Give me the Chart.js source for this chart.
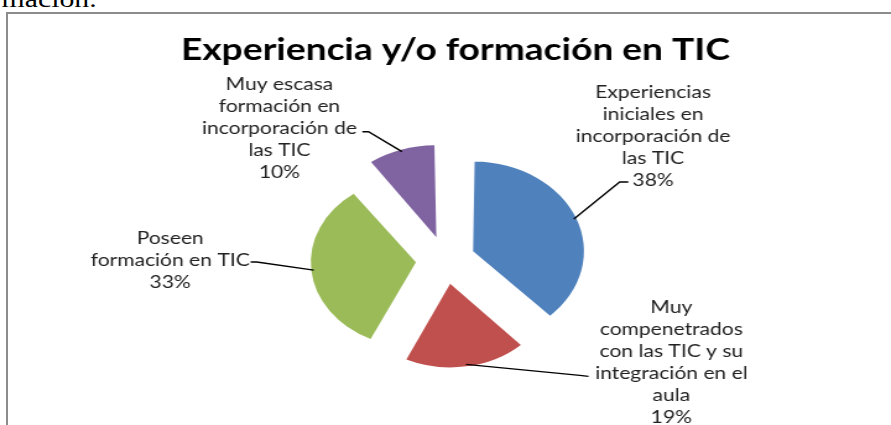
<!DOCTYPE html>
<html>
<head>
<meta charset="utf-8">
<script src="https://cdn.jsdelivr.net/npm/chart.js@4.4.1/dist/chart.umd.min.js"></script>
<style>
  html, body { margin: 0; padding: 0; background: #fff; overflow: hidden; }
  body { width: 891px; height: 425px; position: relative; }
  #prev-text { position: absolute; right: 794px; top: -13px; font: 24px/24px 'Liberation Serif', serif; transform: scaleX(1.24); transform-origin: right center; white-space: nowrap; color: #000; }
  #frame { position: absolute; left: 6px; top: 12px; width: 1000px; height: 1000px; border-left: 2px solid #8c8c8c; border-top: 2px solid #8c8c8c; }
  #chart { position: absolute; left: 0; top: 0; }
</style>
</head>
<body>
<div id="prev-text">formación.</div>
<div id="frame"></div>
<!-- the original picture is stretched sideways, so the canvas is drawn narrower and widened by css -->
<canvas id="chart" width="720" height="425" style="width:891px;height:425px"></canvas>
<script>
const chartTitle = 'Experiencia y/o formación en TIC';
const categories = [
    'Experiencias iniciales en incorporación de las TIC',
    'Muy compenetrados con las TIC y su integración en el aula',
    'Poseen formación en TIC',
    'Muy escasa formación en incorporación de las TIC'
];
const percentages = [38, 19, 33, 10];
const labelLines = [
    ['Experiencias', 'iniciales en', 'incorporación de', 'las TIC'],
    ['Muy', 'compenetrados', 'con las TIC y su', 'integración en el', 'aula'],
    ['Poseen', 'formación en TIC'],
    ['Muy escasa', 'formación en', 'incorporación de', 'las TIC']
];
const sliceColors = ['#4F81BD', '#C0504D', '#9BBB59', '#8064A2'];

// label placement, relative to where the leader touches the slice
const labelPlace = [
    { dx: 64, dy: -126, lead: [[44, -37], [37, -37]] },
    { dx: 166, dy: -57, lead: [[99, 12], [92, 11]] },
    { dx: -116, dy: -32, lead: [[-51, -8], [-46, -8]] },
    { dx: -99, dy: -67, lead: [[-32, -20], [-27, -20]] }
];

const explode = 96;
const lineGap = 22;

const sliceLabels = {
    id: 'sliceLabels',
    afterDatasetsDraw(chart) {
        const ctx = chart.ctx;
        const meta = chart.getDatasetMeta(0);
        ctx.save();
        ctx.fillStyle = '#000';
        ctx.font = 'bold 30px Lato';
        ctx.textAlign = 'center';
        ctx.textBaseline = 'alphabetic';
        ctx.fillText(chartTitle, 368, 60);

        meta.data.forEach(function(arc, i) {
            const p = arc.getProps(['x', 'y', 'startAngle', 'endAngle', 'outerRadius', 'circumference'], true);
            const mid = (p.startAngle + p.endAngle) / 2;
            const shift = explode / 4;
            const fix = 1 - Math.sin(Math.min(Math.PI, p.circumference));
            const r = shift + p.outerRadius + shift * fix - 2;
            const ax = p.x + Math.cos(mid) * r;
            const ay = p.y + Math.sin(mid) * r;
            const place = labelPlace[i];

            ctx.strokeStyle = '#000';
            ctx.lineWidth = 1.4;
            ctx.beginPath();
            ctx.moveTo(ax + place.lead[0][0], ay + place.lead[0][1]);
            ctx.lineTo(ax + place.lead[1][0], ay + place.lead[1][1]);
            ctx.lineTo(ax, ay);
            ctx.stroke();

            const lines = labelLines[i].concat([percentages[i] + '%']);
            ctx.fillStyle = '#222';
            ctx.font = '17px Lato';
            ctx.textBaseline = 'middle';
            lines.forEach(function(t, k) {
                ctx.fillText(t, ax + place.dx, ay + place.dy + k * lineGap);
            });
        });
        ctx.restore();
    }
};

new Chart(document.getElementById('chart'), {
    type: 'pie',
    data: {
        labels: categories,
        datasets: [{
            data: percentages,
            backgroundColor: sliceColors,
            borderWidth: 0,
            offset: explode,
            radius: 82
        }]
    },
    options: {
        responsive: false,
        animation: false,
        devicePixelRatio: 1,
        layout: { padding: { top: 100, bottom: 5, left: 0, right: 0 } },
        plugins: {
            legend: { display: false },
            tooltip: { enabled: false },
            title: { display: false }
        }
    },
    plugins: [sliceLabels]
});
</script>
</body>
</html>
